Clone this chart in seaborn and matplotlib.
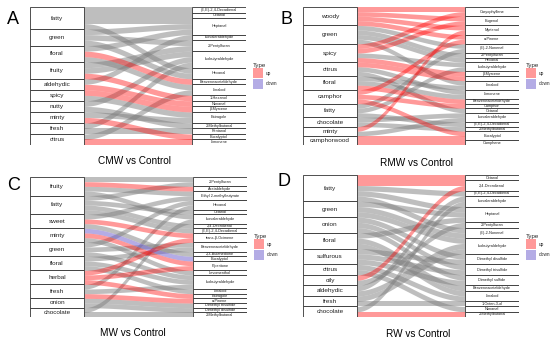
"""
Alluvial plots: odour descriptors -> volatile compounds, four treatments vs control
"""

import numpy as np
import matplotlib
matplotlib.use("Agg")
import matplotlib.pyplot as plt
from matplotlib.patches import Rectangle, Patch
import seaborn as sns

# ---------------- A: CMW vs Control ----------------
A_FLAVORS = ["fatty", "green", "floral", "fruity", "aldehydic", "spicy",
             "nutty", "minty", "fresh", "citrus"]
A_COMPOUNDS = ["(E,E)-2,4-Decadienal", "Octanal", "Heptanal", "Isovaleraldehyde",
               "2-Pentylfuran", "Isobutyraldehyde", "Hexanal", "Benzeneacetaldehyde",
               "Linalool", "1-Hexanol", "Nonanal", "β-Myrcene", "Estragole",
               "2-Methylbutanal", "Pentanal", "Eucalyptol", "Limonene"]
A_LINKS = [("fatty", "(E,E)-2,4-Decadienal"), ("fatty", "Octanal"), ("fatty", "Heptanal"),
           ("fatty", "Hexanal"), ("green", "Heptanal"), ("green", "Hexanal"),
           ("green", "2-Pentylfuran"), ("floral", "Heptanal"), ("floral", "Linalool"),
           ("floral", "Benzeneacetaldehyde"), ("fruity", "2-Pentylfuran"),
           ("fruity", "Isobutyraldehyde"), ("fruity", "1-Hexanol"),
           ("aldehydic", "Isovaleraldehyde"), ("aldehydic", "Nonanal"),
           ("spicy", "β-Myrcene"), ("spicy", "Estragole"), ("nutty", "Isobutyraldehyde"),
           ("nutty", "2-Methylbutanal"), ("minty", "Estragole"), ("minty", "Eucalyptol"),
           ("fresh", "Isobutyraldehyde"), ("fresh", "Pentanal"), ("citrus", "Linalool"),
           ("citrus", "Limonene")]
A_UP = ["Benzeneacetaldehyde", "1-Hexanol", "Nonanal", "β-Myrcene", "Eucalyptol", "Limonene"]
A_DOWN = []

# ---------------- B: RMW vs Control ----------------
B_FLAVORS = ["woody", "green", "spicy", "citrus", "floral", "camphor", "fatty",
             "chocolate", "minty", "camphorwood"]
B_COMPOUNDS = ["Caryophyllene", "Eugenol", "Myrtenol", "α-Pinene", "(E)-2-Nonenal",
               "2-Pentylfuran", "Hexanal", "Isobutyraldehyde", "β-Myrcene", " ",
               "Linalool", "Limonene", "Benzeneacetaldehyde", "Camphor", "Octanal",
               "Isovaleraldehyde", "(E,E)-2,4-Decadienal", "2-Methylbutanal",
               "Eucalyptol", "Camphene"]
B_LINKS = [("woody", "Caryophyllene"), ("woody", "Eugenol"), ("woody", "Myrtenol"),
           ("woody", "α-Pinene"), ("green", "(E)-2-Nonenal"), ("green", "2-Pentylfuran"),
           ("green", "Hexanal"), ("green", "Linalool"), ("spicy", "Caryophyllene"),
           ("spicy", "Eugenol"), ("spicy", "Isobutyraldehyde"), ("spicy", "β-Myrcene"),
           ("citrus", " "), ("citrus", "Limonene"), ("citrus", "Octanal"),
           ("floral", "Linalool"), ("floral", "Limonene"), ("floral", "Benzeneacetaldehyde"),
           ("camphor", "α-Pinene"), ("camphor", "Camphor"), ("camphor", "Eucalyptol"),
           ("fatty", "(E)-2-Nonenal"), ("fatty", "Isobutyraldehyde"),
           ("fatty", "(E,E)-2,4-Decadienal"), ("chocolate", "Isovaleraldehyde"),
           ("chocolate", "2-Methylbutanal"), ("minty", "Myrtenol"),
           ("minty", "Isovaleraldehyde"), ("camphorwood", "Eucalyptol"),
           ("camphorwood", "Camphene")]
B_UP = ["Caryophyllene", "Eugenol", "Myrtenol", "α-Pinene", "β-Myrcene", " ",
        "Benzeneacetaldehyde", "Camphor", "Eucalyptol", "Camphene"]
B_DOWN = []

# ---------------- C: MW vs Control ----------------
C_FLAVORS = ["fruity", "fatty", "sweet", "minty", "green", "floral", "herbal",
             "fresh", "onion", "chocolate"]
C_COMPOUNDS = ["2-Pentylfuran", "Acetaldehyde", "Ethyl 2-methylbutyrate", "Hexanal",
               "Octanal", "Isovaleraldehyde", "2,4-Decadienal", "(E,E)-2,4-Decadienal",
               "trans-β-Ocimene", "Benzeneacetaldehyde", "2,3-Butanedione", "Eucalyptol",
               "Piperitone", "Levomenthol", "Isobutyraldehyde", "Linalool", "Estragole",
               "α-Pinene", "Dimethyl trisulfide", "Dimethyl disulfide", "2-Methylbutanal"]
C_LINKS = [("fruity", "2-Pentylfuran"), ("fruity", "Acetaldehyde"),
           ("fruity", "Ethyl 2-methylbutyrate"), ("fruity", "Isovaleraldehyde"),
           ("fatty", "2-Pentylfuran"), ("fatty", "Octanal"), ("fatty", "2,4-Decadienal"),
           ("fatty", "(E,E)-2,4-Decadienal"), ("sweet", "Ethyl 2-methylbutyrate"),
           ("sweet", "trans-β-Ocimene"), ("sweet", "2,3-Butanedione"),
           ("minty", "Eucalyptol"), ("minty", "Piperitone"), ("minty", "Levomenthol"),
           ("green", "Hexanal"), ("green", "Benzeneacetaldehyde"),
           ("green", "Isobutyraldehyde"), ("floral", "Benzeneacetaldehyde"),
           ("floral", "Isobutyraldehyde"), ("floral", "Linalool"),
           ("herbal", "trans-β-Ocimene"), ("herbal", "Piperitone"), ("herbal", "Estragole"),
           ("fresh", "Hexanal"), ("fresh", "Isobutyraldehyde"), ("fresh", "α-Pinene"),
           ("onion", "Dimethyl trisulfide"), ("onion", "Dimethyl disulfide"),
           ("chocolate", "Isovaleraldehyde"), ("chocolate", "2-Methylbutanal")]
C_UP = ["Acetaldehyde", "trans-β-Ocimene", "Piperitone", "Estragole", "α-Pinene"]
C_DOWN = ["Eucalyptol"]

# ---------------- D: RW vs Control ----------------
D_FLAVORS = ["fatty", "green", "onion", "floral", "sulfurous", "citrus", "oily",
             "aldehydic", "fresh", "chocolate"]
D_COMPOUNDS = ["Octanal", "2,4-Decadienal", "(E,E)-2,4-Decadienal", "Isovaleraldehyde",
               "Heptanal", "2-Pentylfuran", "(E)-2-Nonenal", "Isobutyraldehyde",
               "Dimethyl disulfide", "Dimethyl trisulfide", "Dimethyl sulfide",
               "Benzeneacetaldehyde", "Linalool", "1-Octen-3-ol", "Nonanal",
               "2-Methylbutanal"]
D_LINKS = [("fatty", "Octanal"), ("fatty", "2,4-Decadienal"),
           ("fatty", "(E,E)-2,4-Decadienal"), ("fatty", "Heptanal"),
           ("fatty", "(E)-2-Nonenal"), ("green", "Heptanal"), ("green", "(E)-2-Nonenal"),
           ("green", "Isobutyraldehyde"), ("onion", "Dimethyl disulfide"),
           ("onion", "Dimethyl trisulfide"), ("onion", "Dimethyl sulfide"),
           ("floral", "Heptanal"), ("floral", "Benzeneacetaldehyde"), ("floral", "Linalool"),
           ("sulfurous", "Dimethyl disulfide"), ("sulfurous", "Dimethyl trisulfide"),
           ("sulfurous", "Dimethyl sulfide"), ("citrus", "Linalool"), ("citrus", "Nonanal"),
           ("oily", "2,4-Decadienal"), ("oily", "2-Pentylfuran"),
           ("aldehydic", "Isovaleraldehyde"), ("aldehydic", "Isobutyraldehyde"),
           ("fresh", "Isobutyraldehyde"), ("fresh", "1-Octen-3-ol"),
           ("chocolate", "Isovaleraldehyde"), ("chocolate", "2-Methylbutanal")]
D_UP = ["Octanal", "2,4-Decadienal", "2-Methylbutanal"]
D_DOWN = []

UP_COLOR = "#FF0000"
DOWN_COLOR = "#6A5ACD"
NS_COLOR = "#7F7F7F"
W, H = 550, 341


def draw_alluvial(ax, flavors, compounds, links, up, down):
    """Draw one two-axis alluvial diagram (flavour strata -> compound strata)"""
    n = len(links)
    fi = {f: i for i, f in enumerate(flavors)}
    ci = {c: i for i, c in enumerate(compounds)}

    # stratum sizes and starts
    lsize = [sum(1 for l, r in links if l == f) for f in flavors]
    rsize = [sum(1 for l, r in links if r == c) for c in compounds]
    lstart = np.concatenate([[0], np.cumsum(lsize)[:-1]])
    rstart = np.concatenate([[0], np.cumsum(rsize)[:-1]])

    # position of each flow inside its strata
    ly = {}
    for f in flavors:
        own = sorted([k for k, (l, r) in enumerate(links) if l == f], key=lambda k: ci[links[k][1]])
        for j, k in enumerate(own):
            ly[k] = lstart[fi[f]] + j
    ry = {}
    for c in compounds:
        own = sorted([k for k, (l, r) in enumerate(links) if r == c], key=lambda k: fi[links[k][0]])
        for j, k in enumerate(own):
            ry[k] = rstart[ci[c]] + j

    x = np.linspace(1, 3, 80)
    t = (x - 1) / 2
    s = t * t * (3 - 2 * t)  # smooth s-curve

    def colour(c):
        if c in up:
            return UP_COLOR, 0.4, 2
        if c in down:
            return DOWN_COLOR, 0.5, 2
        return NS_COLOR, 0.5, 1

    for k, (l, r) in enumerate(links):
        col, a, z = colour(r)
        top = ly[k] + (ry[k] - ly[k]) * s
        ax.fill_between(x, top, top + 1, color=col, alpha=a, lw=0, zorder=z)

    for i, f in enumerate(flavors):
        ax.add_patch(Rectangle((0, lstart[i]), 1, lsize[i], facecolor="white",
                               edgecolor="#333333", lw=0.6, zorder=3))
        ax.text(0.5, lstart[i] + lsize[i] / 2, f, ha="center", va="center",
                fontsize=4.6, color="#222222", zorder=4)
    for i, c in enumerate(compounds):
        ax.add_patch(Rectangle((3, rstart[i]), 1, rsize[i], facecolor="white",
                               edgecolor="#333333", lw=0.6, zorder=3))
        ax.text(3.5, rstart[i] + rsize[i] / 2, c, ha="center", va="center",
                fontsize=2.8, color="#222222", zorder=4)

    ax.set_xlim(0, 4)
    ax.set_ylim(n, 0)
    ax.axis("off")


def main():
    sns.set_theme(style="white")
    plt.rcParams["font.family"] = ["Liberation Sans", "DejaVu Sans"]

    fig = plt.figure(figsize=(W / 100, H / 100), dpi=100)
    fig.patch.set_facecolor("white")

    panels = [
        ("A", "CMW vs Control", A_FLAVORS, A_COMPOUNDS, A_LINKS, A_UP, A_DOWN,
         (30, 246, 7, 145), (13, 19.5), (135, 161), (253, 63)),
        ("B", "RMW vs Control", B_FLAVORS, B_COMPOUNDS, B_LINKS, B_UP, B_DOWN,
         (303, 519, 7, 145), (286, 19), (417, 163), (526, 63)),
        ("C", "MW vs Control", C_FLAVORS, C_COMPOUNDS, C_LINKS, C_UP, C_DOWN,
         (30, 247, 177, 317), (14, 186), (133, 333), (254, 234)),
        ("D", "RW vs Control", D_FLAVORS, D_COMPOUNDS, D_LINKS, D_UP, D_DOWN,
         (303, 519, 175, 317), (284, 182), (418, 334), (526, 234)),
    ]

    for letter, title, fl, co, li, up, dn, box, lpos, tpos, legpos in panels:
        x0, x1, y0, y1 = box
        ax = fig.add_axes([x0 / W, 1 - y1 / H, (x1 - x0) / W, (y1 - y0) / H])
        draw_alluvial(ax, fl, co, li, up, dn)

        fig.text(lpos[0] / W, 1 - lpos[1] / H, letter, ha="center", va="center",
                 fontsize=13, color="black")
        fig.text(tpos[0] / W, 1 - tpos[1] / H, title, ha="center", va="center",
                 fontsize=7.2, color="black")

        handles = [Patch(facecolor=UP_COLOR, alpha=0.4, edgecolor="none", label="up"),
                   Patch(facecolor=DOWN_COLOR, alpha=0.5, edgecolor="none", label="down")]
        leg = ax.legend(handles=handles, title="Type", loc="upper left",
                        bbox_to_anchor=(legpos[0] / W, 1 - legpos[1] / H),
                        bbox_transform=fig.transFigure, frameon=False,
                        fontsize=3.4, title_fontsize=4.4, handlelength=2.2,
                        handleheight=2.9, handletextpad=0.6, labelspacing=0.05,
                        borderpad=0, borderaxespad=0)
        leg._legend_box.align = "left"

    fig.savefig("out.png", dpi=100, facecolor="white")
    plt.close(fig)


if __name__ == "__main__":
    main()
